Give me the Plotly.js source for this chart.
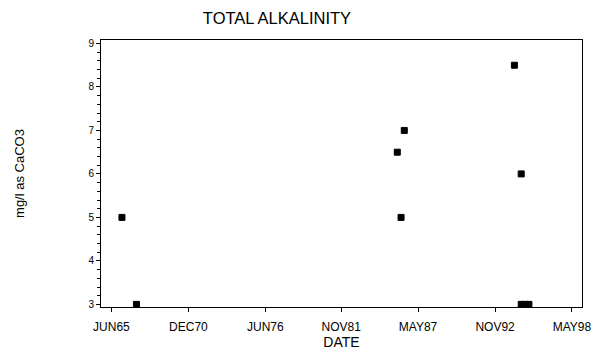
<!DOCTYPE html>
<html>
<head>
<meta charset="utf-8">
<script src="https://cdn.plot.ly/plotly-3.0.1.min.js"></script>
<style>html,body{margin:0;padding:0;background:#fff;}#chart{width:597px;height:354px;}</style>
</head>
<body>
<div id="chart"></div>
<script>
// Sample dates and total alkalinity values (mg/l as CaCO3)
const sampleDates = ['1966-03-02','1967-03-15','1985-11-05','1986-02-12','1986-05-07','1994-03-21','1994-09-15','1994-09-15','1994-12-20','1995-04-04'];
const alkalinity = [5, 3, 6.5, 5, 7, 8.5, 6, 3, 3, 3];

// X axis tick positions and labels
const xTickDates = ['1965-06-01','1970-12-01','1976-06-01','1981-11-01','1987-05-01','1992-11-01','1998-05-01'];
const xTickLabels = ['JUN65','DEC70','JUN76','NOV81','MAY87','NOV92','MAY98'];

const fontFam = 'Liberation Sans, Arial, sans-serif';

const trace = {
  x: sampleDates,
  y: alkalinity,
  type: 'scatter',
  mode: 'markers',
  marker: {symbol: 'square', size: 6, color: '#000', line: {color: '#000', width: 1}},
  cliponaxis: false,
  hoverinfo: 'x+y'
};

const layout = {
  width: 597, height: 354,
  margin: {l: 101, r: 15, t: 40, b: 47},
  paper_bgcolor: '#fff', plot_bgcolor: '#fff',
  showlegend: false,
  font: {family: fontFam, color: '#000'},
  title: {text: 'TOTAL ALKALINITY', font: {size: 16.5, family: fontFam, color: '#000'},
          x: 277/597, xanchor: 'center', xref: 'container', y: 1 - 18.5/354, yanchor: 'middle', yref: 'container'},
  xaxis: {
    type: 'date',
    range: ['1964-09-01', '1999-01-19'],
    tickmode: 'array', tickvals: xTickDates, ticktext: xTickLabels,
    ticks: 'outside', ticklen: 4, tickcolor: '#000', tickwidth: 1,
    tickfont: {size: 12, family: fontFam, color: '#000'},
    ticklabelstandoff: 5,
    showgrid: false, zeroline: false,
    showline: true, linecolor: '#000', linewidth: 1, mirror: true,
    title: {text: 'DATE', font: {size: 14, family: fontFam, color: '#000'}, standoff: 1},
    automargin: false
  },
  yaxis: {
    range: [2.94, 9.08],
    tickmode: 'linear', tick0: 3, dtick: 1,
    ticks: 'outside', ticklen: 4, tickcolor: '#000', tickwidth: 1,
    minor: {dtick: 0.2, ticks: 'outside', ticklen: 3, tickcolor: '#000', showgrid: false},
    tickfont: {size: 10, family: fontFam, color: '#000'},
    showgrid: false, zeroline: false,
    showline: true, linecolor: '#000', linewidth: 1, mirror: true,
    title: {text: 'mg/l as CaCO3', font: {size: 13, family: fontFam, color: '#000'}, standoff: 60},
    automargin: false
  }
};

Plotly.newPlot('chart', [trace], layout, {displayModeBar: false, staticPlot: false});
</script>
</body>
</html>
